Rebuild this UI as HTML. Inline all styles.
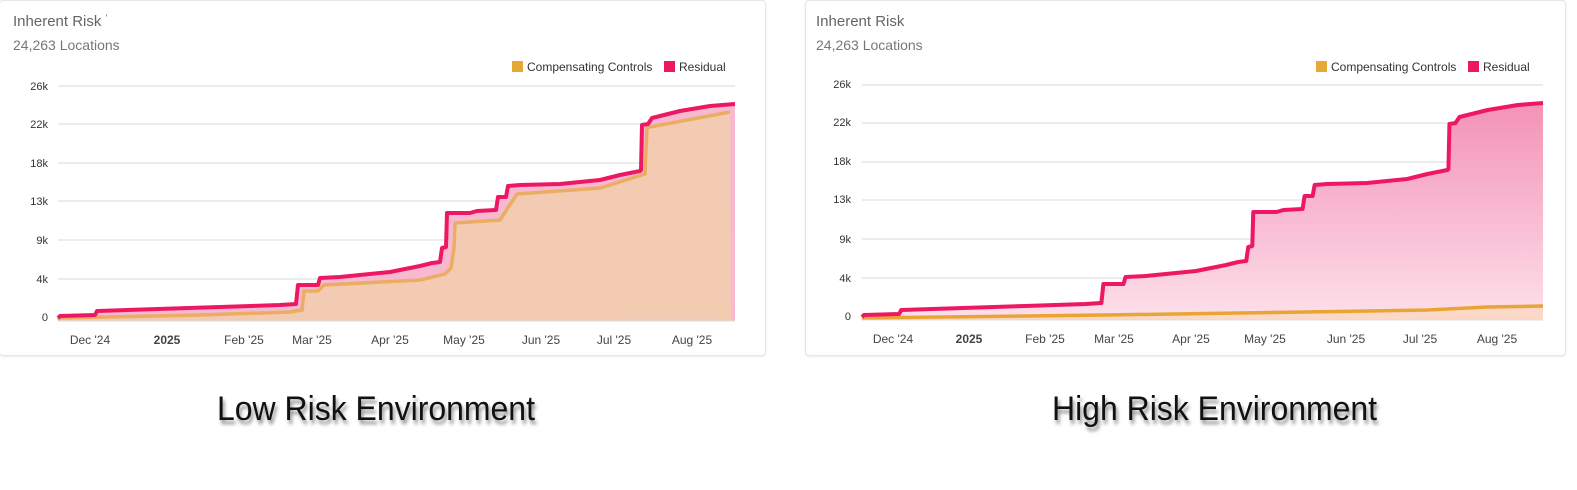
<!DOCTYPE html>
<html><head><style>
body{margin:0;width:1577px;height:490px;background:#fff;overflow:hidden;font-family:"Liberation Sans",sans-serif;}
.card{position:absolute;top:0;height:354px;border:1px solid #e6e6e6;border-radius:4px;box-shadow:0 1px 2px rgba(0,0,0,0.08);background:#fff;}
.t{position:absolute;font-size:15px;color:#666;}
.s{position:absolute;font-size:14px;color:#777;}
.cap{position:absolute;top:390px;font-size:34px;color:#111;text-shadow:2px 4px 4px rgba(0,0,0,0.45);transform:scaleX(0.94);transform-origin:0 0;white-space:nowrap;}
</style></head><body>
<div class="card" style="left:-1px;width:765px"></div>
<div class="card" style="left:805px;width:759px"></div>
<div class="t" style="left:13px;top:13px">Inherent Risk <span style="color:#1a7fd0;font-size:9px;vertical-align:top">'</span></div>
<div class="s" style="left:13px;top:37px">24,263 Locations</div>
<div class="t" style="left:816px;top:13px">Inherent Risk</div>
<div class="s" style="left:816px;top:37px">24,263 Locations</div>
<svg width="1577" height="490" style="position:absolute;left:0;top:0" font-family="Liberation Sans, sans-serif">
<defs>
<linearGradient id="pk" x1="0" y1="0" x2="0" y2="1"><stop offset="0" stop-color="#f392b6"/><stop offset="1" stop-color="#fde0ea"/></linearGradient>
<g id="grid">
<g stroke="#e6e6e6" stroke-width="1.5">
<line x1="58" x2="735" y1="86" y2="86"/><line x1="58" x2="735" y1="124" y2="124"/><line x1="58" x2="735" y1="163" y2="163"/><line x1="58" x2="735" y1="201" y2="201"/><line x1="58" x2="735" y1="240" y2="240"/><line x1="58" x2="735" y1="279" y2="279"/>
</g></g>
<path id="res" d="M58,318 L60,316 L95,315 L97,311 L220,307 L280,305 L296,304 L298,285 L318,285 L320,278 L340,277 L390,272 L420,266 L432,263 L440,262 L442,248 L446,247 L447,213 L470,213 L477,211 L496,210 L498,197 L506,197 L508,186 L520,185 L560,184 L600,180 L620,175 L640,171 L641,170 L642,125 L648,124 L652,118 L660,116 L680,111 L710,106 L735,104"/>
</defs>
<use href="#grid"/>
<path d="M58,321 L58,318 L60,316 L95,315 L97,311 L220,307 L280,305 L296,304 L298,285 L318,285 L320,278 L340,277 L390,272 L420,266 L432,263 L440,262 L442,248 L446,247 L447,213 L470,213 L477,211 L496,210 L498,197 L506,197 L508,186 L520,185 L560,184 L600,180 L620,175 L640,171 L641,170 L642,125 L648,124 L652,118 L660,116 L680,111 L710,106 L735,104 L735,321Z" fill="#f7b9cf"/>
<path d="M58,321 L58,320 L60,318 L200,315 L290,312 L302,310 L304,291 L318,291 L324,285 L420,280 L445,274 L451,268 L454,248 L455,223 L500,220 L517,194 L600,188 L645,174 L647,128 L650,127 L730,112 L731,321Z" fill="#f3cbb3"/>
<path d="M58,320 L60,318 L200,315 L290,312 L302,310 L304,291 L318,291 L324,285 L420,280 L445,274 L451,268 L454,248 L455,223 L500,220 L517,194 L600,188 L645,174 L647,128 L650,127 L730,112" fill="none" stroke="#ebad62" stroke-width="3.5"/>
<path d="M620,307 L730,306" stroke="#efd0a6" stroke-width="2" fill="none"/>
<use href="#res" fill="none" stroke="#ee1763" stroke-width="4" stroke-linejoin="round"/>
<line x1="58" x2="735" y1="321" y2="321" stroke="#ddd"/>
<g font-size="11" fill="#333" text-anchor="end"><text x="48" y="90">26k</text><text x="48" y="128">22k</text><text x="48" y="167">18k</text><text x="48" y="205">13k</text><text x="48" y="244">9k</text><text x="48" y="283">4k</text><text x="48" y="321">0</text></g>
<g font-size="12" fill="#444" text-anchor="middle"><text x="90" y="344">Dec '24</text><text x="167" y="344" font-weight="bold">2025</text><text x="244" y="344">Feb '25</text><text x="312" y="344">Mar '25</text><text x="390" y="344">Apr '25</text><text x="464" y="344">May '25</text><text x="541" y="344">Jun '25</text><text x="614" y="344">Jul '25</text><text x="692" y="344">Aug '25</text></g>
<rect x="512" y="61" width="11" height="11" fill="#e8a838"/><text x="527" y="71" font-size="12" fill="#333">Compensating Controls</text>
<rect x="664" y="61" width="11" height="11" fill="#ee1763"/><text x="679" y="71" font-size="12" fill="#333">Residual</text>
<g transform="matrix(1.006,0,0,1,803.6,-1)">
<use href="#grid"/>
<path d="M58,321 L58,318 L60,316 L95,315 L97,311 L220,307 L280,305 L296,304 L298,285 L318,285 L320,278 L340,277 L390,272 L420,266 L432,263 L440,262 L442,248 L446,247 L447,213 L470,213 L477,211 L496,210 L498,197 L506,197 L508,186 L520,185 L560,184 L600,180 L620,175 L640,171 L641,170 L642,125 L648,124 L652,118 L660,116 L680,111 L710,106 L735,104 L735,321Z" fill="url(#pk)"/>
<path d="M58,321 L58,319 L300,316 L500,313 L620,311 L680,308 L735,307 L735,321Z" fill="#fbd8c8"/>
<path d="M58,319 L300,316 L500,313 L620,311 L680,308 L735,307" fill="none" stroke="#e8a535" stroke-width="3.5"/>
<use href="#res" fill="none" stroke="#ee1763" stroke-width="4" stroke-linejoin="round"/>
<line x1="58" x2="735" y1="321" y2="321" stroke="#ddd"/>
</g>
<g font-size="11" fill="#333" text-anchor="end"><text x="851" y="88">26k</text><text x="851" y="126">22k</text><text x="851" y="165">18k</text><text x="851" y="203">13k</text><text x="851" y="243">9k</text><text x="851" y="282">4k</text><text x="851" y="320">0</text></g>
<g font-size="12" fill="#444" text-anchor="middle"><text x="893" y="343">Dec '24</text><text x="969" y="343" font-weight="bold">2025</text><text x="1045" y="343">Feb '25</text><text x="1114" y="343">Mar '25</text><text x="1191" y="343">Apr '25</text><text x="1265" y="343">May '25</text><text x="1346" y="343">Jun '25</text><text x="1420" y="343">Jul '25</text><text x="1497" y="343">Aug '25</text></g>
<rect x="1316" y="61" width="11" height="11" fill="#e8a838"/><text x="1331" y="71" font-size="12" fill="#333">Compensating Controls</text>
<rect x="1468" y="61" width="11" height="11" fill="#ee1763"/><text x="1483" y="71" font-size="12" fill="#333">Residual</text>
</svg>
<div class="cap" style="left:217px">Low Risk Environment</div>
<div class="cap" style="left:1052px">High Risk Environment</div>
</body></html>
